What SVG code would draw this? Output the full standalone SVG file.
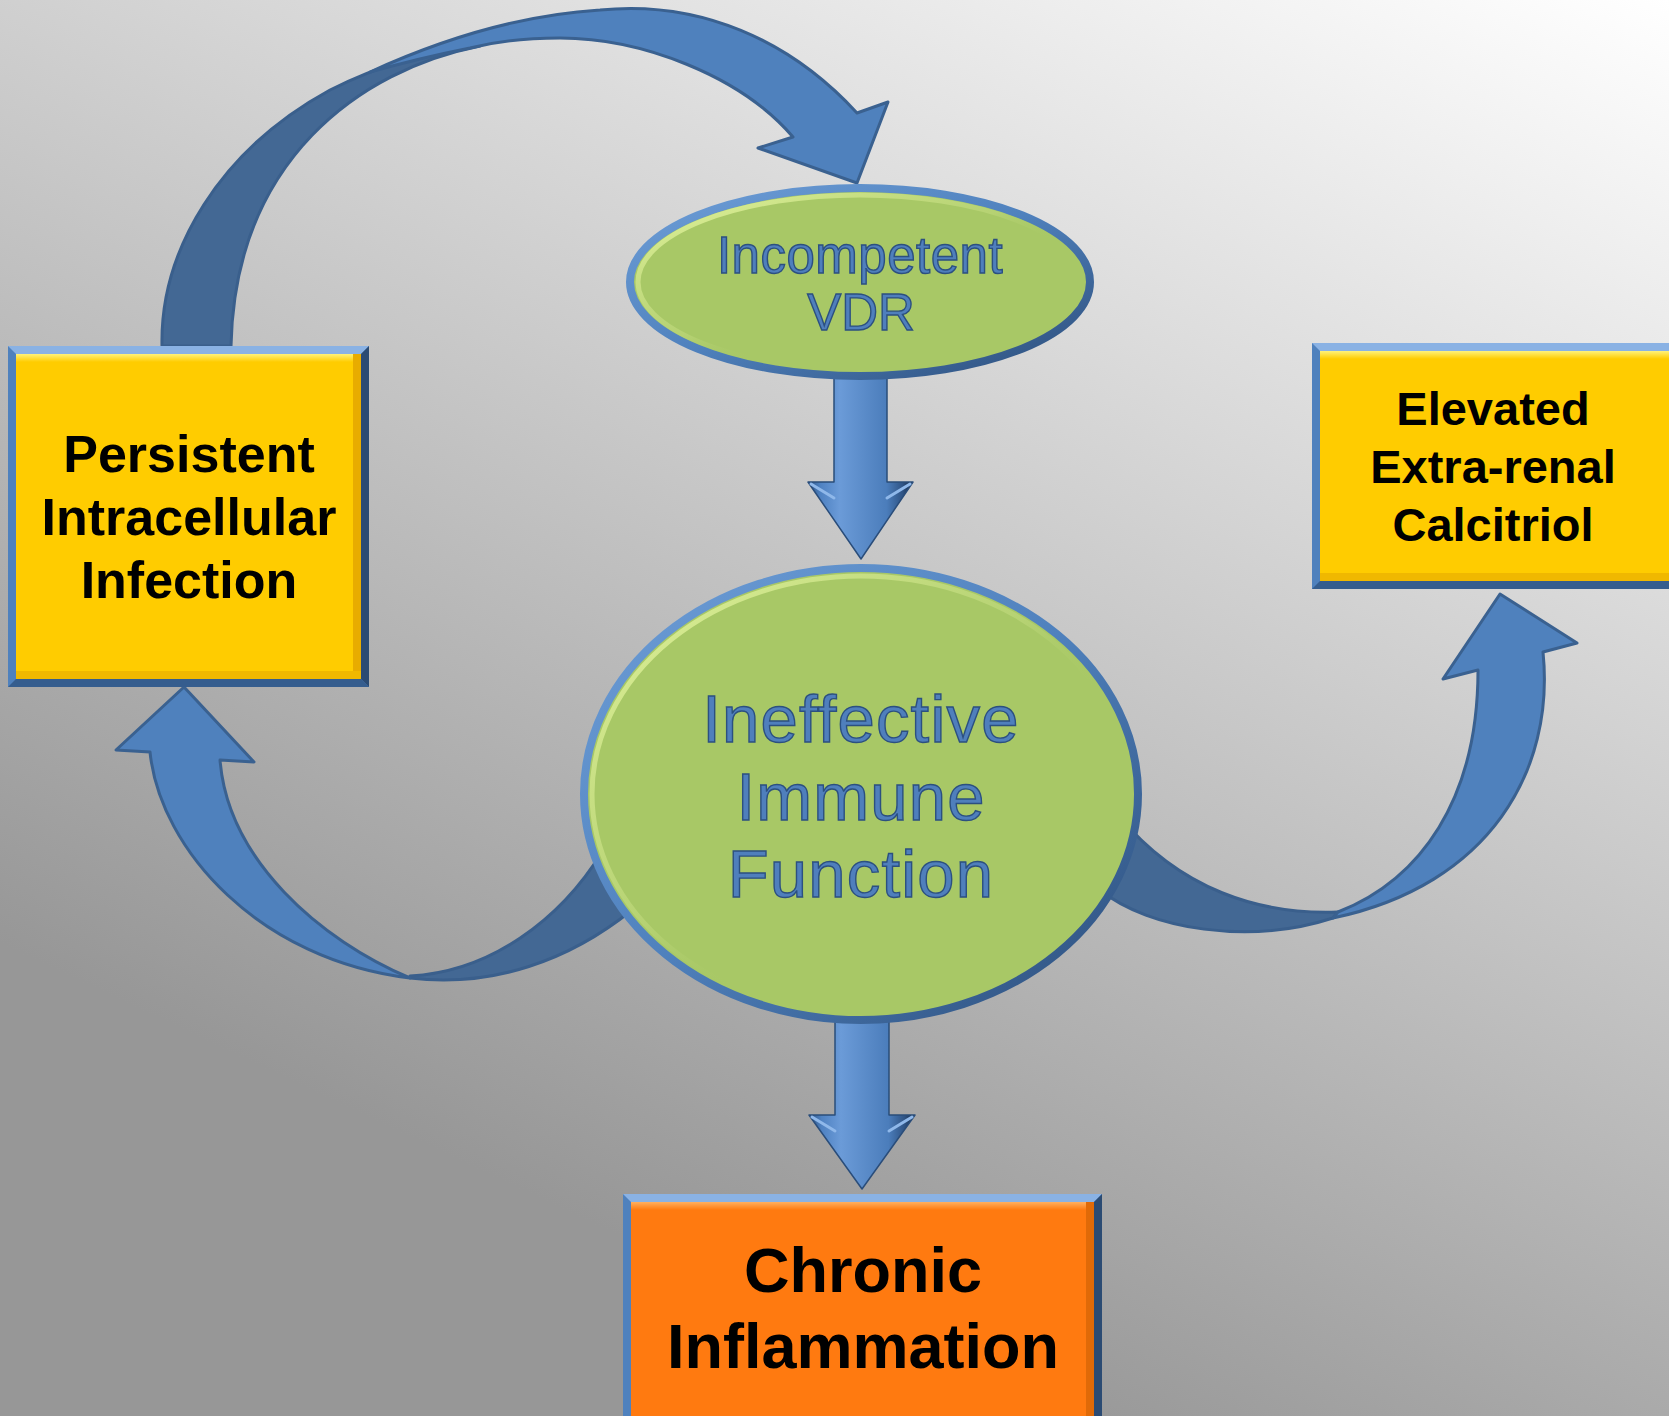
<svg xmlns="http://www.w3.org/2000/svg" width="1669" height="1416" viewBox="0 0 1669 1416">
<defs>
<linearGradient id="bg" gradientUnits="userSpaceOnUse" x1="1669" y1="0" x2="1000" y2="1416">
<stop offset="0" stop-color="#ffffff"/><stop offset="0.5" stop-color="#cbcbcb"/><stop offset="1" stop-color="#979797"/>
</linearGradient>
<linearGradient id="shaft" x1="0" y1="0" x2="1" y2="0">
<stop offset="0" stop-color="#2c5282"/><stop offset="0.12" stop-color="#4f82c2"/><stop offset="0.3" stop-color="#6b9bd8"/><stop offset="0.75" stop-color="#4b7dbb"/><stop offset="0.9" stop-color="#2f5485"/><stop offset="1" stop-color="#15263d"/>
</linearGradient>
<linearGradient id="yel" x1="0" y1="0" x2="0" y2="1">
<stop offset="0" stop-color="#fff27a"/><stop offset="1" stop-color="#ffcc00"/>
</linearGradient>
<linearGradient id="ora" x1="0" y1="0" x2="0" y2="1">
<stop offset="0" stop-color="#ffb060"/><stop offset="1" stop-color="#ff7a10"/>
</linearGradient>
<linearGradient id="ering" x1="0" y1="0" x2="1" y2="1">
<stop offset="0" stop-color="#e6f7a0"/><stop offset="0.45" stop-color="#c4dc80" stop-opacity="0.5"/><stop offset="0.6" stop-color="#a8c866" stop-opacity="0"/><stop offset="1" stop-color="#a8c866" stop-opacity="0"/>
</linearGradient>
<linearGradient id="estroke" x1="0" y1="0" x2="1" y2="1">
<stop offset="0" stop-color="#6f9fd8"/><stop offset="0.5" stop-color="#4f81bd"/><stop offset="1" stop-color="#2b4c78"/>
</linearGradient>
<style>
.front{fill:#4f81bd;stroke:#3a6190;stroke-width:3;stroke-linejoin:round}
.back{fill:#436894;stroke:#3a5f8c;stroke-width:3;stroke-linejoin:round}
.sarrow{fill:url(#shaft);stroke:#2a4d7a;stroke-width:1.5;stroke-linejoin:round}
.hl{fill:none;stroke:#8fb8ea;stroke-width:3;stroke-linecap:round}
.efill{fill:#a8c866;stroke:url(#estroke);stroke-width:8}
.ering{fill:none;stroke:url(#ering);stroke-width:5}
.et{font-family:"Liberation Sans",Arial,sans-serif;fill:#4f7fbc;stroke:#2c5080;stroke-width:1.4;text-anchor:middle}
.bt{font-family:"Liberation Sans",Arial,sans-serif;font-weight:bold;fill:#000;text-anchor:middle}
.fr{fill:#4f81bd}
.frt{fill:#8ab2e4}
.frd{fill:#2b4b73}
.frb{fill:#355d8e}
</style>
</defs>
<rect x="0" y="0" width="1669" height="1416" fill="url(#bg)"/>

<g id="connectors">
  <!-- top curved arrow: infection -> VDR -->
  <path class="back" d="M162,346 C160,250 220,150 330,90 Q400,55 480,42 L480,46 C360,70 235,160 231,346 Z"/>
  <path class="front" d="M370,72 C440,40 520,15 600,10 C700,0 790,40 857,113 L888,102 L857,183 L758,148 L793,137 C740,75 640,38 560,38 Q510,38 470,48 Q420,58 370,72 Z"/>
  <!-- lower-left curved arrow: immune -> infection -->
  <path class="back" d="M410,978 C493,988 570,960 632,910 L602,852 C560,920 490,972 410,976 Z"/>
  <path class="front" d="M410,978 C260,960 160,850 150,752 L116,750 L184,687 L254,762 L220,760 C228,860 320,940 410,978 Z"/>
  <!-- lower-right curved arrow: immune -> calcitriol -->
  <path class="back" d="M1338,912 C1260,915 1180,890 1118,815 L1100,890 C1150,930 1250,945 1333,918 Z"/>
  <path class="front" d="M1333,918 C1490,885 1555,770 1543,652 L1577,643 L1500,594 L1443,679 L1478,670 C1478,800 1420,880 1338,912 Z"/>
  <!-- straight arrows -->
  <path class="sarrow" d="M834,370 L887,370 L887,482 L913,482 L861,559 L808,482 L834,482 Z"/>
  <path class="hl" d="M811,484 L834,498 M887,498 L910,484"/>
  <path class="sarrow" d="M835,1010 L889,1010 L889,1115 L915,1115 L862,1189 L809,1115 L835,1115 Z"/>
  <path class="hl" d="M812,1117 L835,1131 M889,1131 L912,1117"/>
</g>

<g id="node-vdr">
  <ellipse class="efill" cx="860" cy="282" rx="230" ry="94"/>
  <ellipse class="ering" cx="860" cy="282" rx="222" ry="87"/>
  <text class="et" x="860" y="273" font-size="51" letter-spacing="0.5">Incompetent</text>
  <text class="et" x="861" y="330" font-size="51">VDR</text>
</g>

<g id="node-immune">
  <ellipse class="efill" cx="861" cy="794" rx="277" ry="226"/>
  <ellipse class="ering" cx="861" cy="794" rx="269" ry="218"/>
  <text class="et" x="861" y="742" font-size="67" letter-spacing="1.2">Ineffective</text>
  <text class="et" x="861" y="820" font-size="67" letter-spacing="1.2">Immune</text>
  <text class="et" x="861" y="897" font-size="67" letter-spacing="1.2">Function</text>
</g>

<g id="node-infection">
  <rect class="fr" x="8" y="346" width="361" height="341"/>
  <polygon class="frt" points="8,346 369,346 361,354 16,354"/>
  <polygon class="frd" points="369,346 369,687 361,679 361,354"/>
  <polygon class="frb" points="8,687 369,687 361,679 16,679"/>
  <rect x="16" y="354" width="345" height="325" fill="#ffcc00"/>
  <rect x="16" y="354" width="345" height="8" fill="url(#yel)"/>
  <rect x="353" y="354" width="8" height="325" fill="#e8ac00"/>
  <rect x="16" y="671" width="345" height="8" fill="#f0b800"/>
  <text class="bt" x="189" y="472" font-size="52">Persistent</text>
  <text class="bt" x="189" y="535" font-size="52">Intracellular</text>
  <text class="bt" x="189" y="598" font-size="52">Infection</text>
</g>

<g id="node-calcitriol">
  <rect class="fr" x="1312" y="343" width="370" height="246"/>
  <polygon class="frt" points="1312,343 1682,343 1674,351 1320,351"/>
  <polygon class="frb" points="1312,589 1682,589 1674,581 1320,581"/>
  <rect x="1320" y="351" width="360" height="230" fill="#ffcc00"/>
  <rect x="1320" y="351" width="360" height="8" fill="url(#yel)"/>
  <rect x="1320" y="573" width="360" height="8" fill="#f0b800"/>
  <text class="bt" x="1493" y="425" font-size="47">Elevated</text>
  <text class="bt" x="1493" y="483" font-size="47">Extra-renal</text>
  <text class="bt" x="1493" y="541" font-size="47">Calcitriol</text>
</g>

<g id="node-inflammation">
  <rect class="fr" x="623" y="1194" width="479" height="240"/>
  <polygon class="frt" points="623,1194 1102,1194 1094,1202 631,1202"/>
  <polygon class="frd" points="1102,1194 1102,1434 1094,1434 1094,1202"/>
  <rect x="631" y="1202" width="463" height="232" fill="#ff7a10"/>
  <rect x="631" y="1202" width="463" height="8" fill="url(#ora)"/>
  <rect x="1086" y="1202" width="8" height="232" fill="#e06a08"/>
  <text class="bt" x="863" y="1292" font-size="63">Chronic</text>
  <text class="bt" x="863" y="1368" font-size="63">Inflammation</text>
</g>
</svg>
